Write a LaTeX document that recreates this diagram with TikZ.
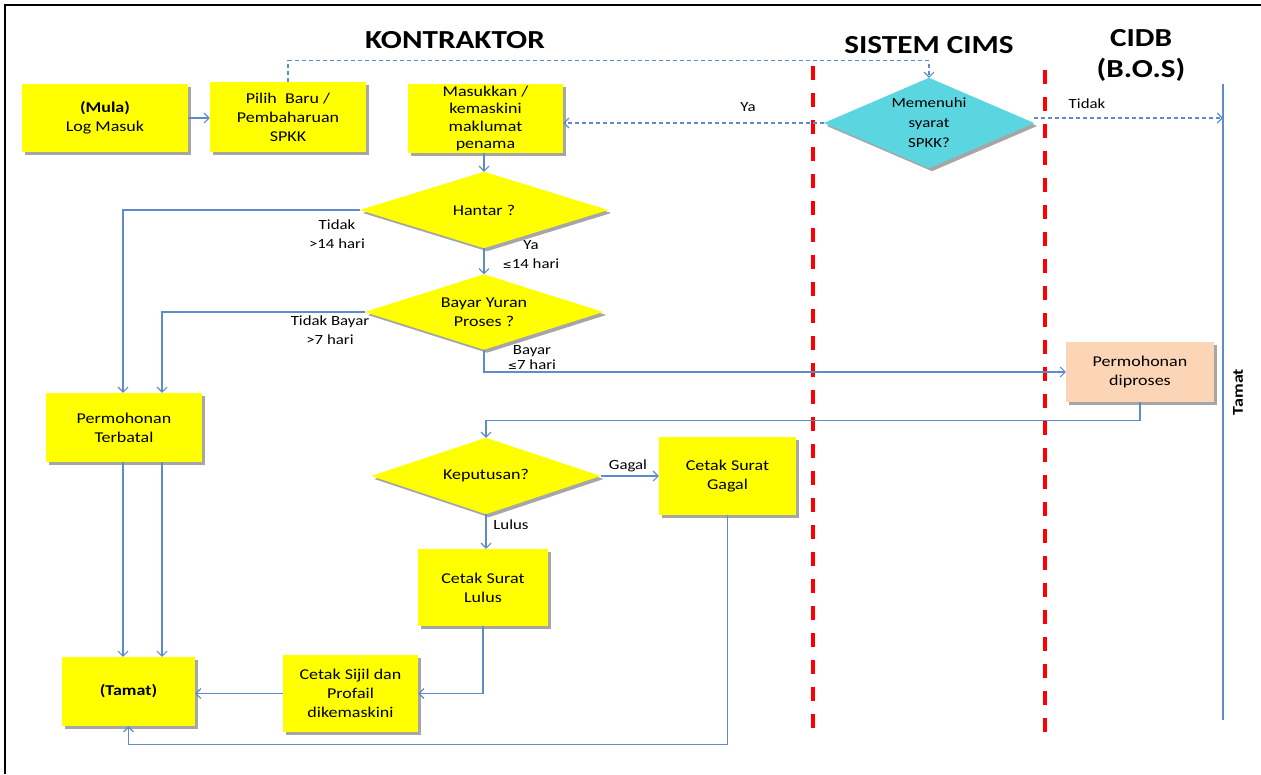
\documentclass[tikz,border=0pt]{standalone}
\usepackage{fontspec}
\setmainfont{Carlito}[FakeStretch=1.2]
\newfontfamily\symfont{DejaVu Sans}
\usetikzlibrary{arrows.meta,shadows,backgrounds}
\definecolor{lineblue}{RGB}{95,140,200}
\definecolor{cyanfill}{RGB}{91,214,224}
\definecolor{peach}{RGB}{251,213,181}
\definecolor{ybox}{RGB}{255,255,0}
\begin{document}
\begin{tikzpicture}[x=1pt,y=-1pt,
  shad/.style={drop shadow={shadow xshift=3pt,shadow yshift=-3pt,opacity=0.35,fill=black}},
  box/.style={rectangle,fill=ybox,draw=none,align=center,inner sep=0pt,shad,
              font=\fontsize{15}{19}\selectfont},
  dia/.style={rectangle,draw=none,align=center,inner sep=0pt,font=\fontsize{15}{19}\selectfont},
  lbl/.style={align=center,inner sep=0pt,font=\fontsize{14}{19}\selectfont},
  ttl/.style={align=center,inner sep=0pt,font=\fontsize{26}{31}\selectfont\bfseries},
  conn/.style={draw=lineblue,line width=1.1pt,-{Straight Barb[length=5pt,width=10pt]}},
  dconn/.style={conn,dash pattern=on 4pt off 3pt},
  plain/.style={draw=lineblue,line width=1.1pt},
  reddash/.style={draw=red,line width=4.5pt,dash pattern=on 14pt off 13pt}
]
\useasboundingbox (0,0) rectangle (1261,774);
% frame
\coordinate (fbl) at (5,774);
\coordinate (ftl) at (5,5);
\coordinate (ftr) at (1261,5);
\draw[line width=2pt] (fbl) -- (ftl) -- (ftr);

% titles
\node[ttl] (tk) at (455,40) {KONTRAKTOR};
\node[ttl] (ts) at (929,45) {SISTEM CIMS};
\node[ttl] (tc) at (1141,55) {CIDB\\(B.O.S)};

% red lane separators
\coordinate (r1t) at (813,66);  \coordinate (r1b) at (813,735);
\coordinate (r2t) at (1045,70); \coordinate (r2b) at (1045,735);
\draw[reddash] (r1t) -- (r1b);
\draw[reddash] (r2t) -- (r2b);

% Tamat line
\coordinate (tamattop) at (1223,84);
\coordinate (tamatbot) at (1223,720);
\draw[plain] (tamattop) -- (tamatbot);
\node[rotate=90,inner sep=0pt,font=\fontsize{15}{17}\selectfont\bfseries] (tamatlbl) at (1238,392) {Tamat};

% boxes
\node[box,minimum width=166,minimum height=68] (mula) at (105,118) {\textbf{(Mula)}\\Log Masuk};
\node[box,minimum width=156,minimum height=70] (pilih) at (288,117) {Pilih\ \ Baru /\\Pembaharuan\\SPKK};
\node[box,minimum width=155,minimum height=69,font=\fontsize{15}{17.5}\selectfont] (masuk) at (485.5,118.5) {Masukkan /\\kemaskini\\maklumat\\penama};
\node[box,minimum width=156,minimum height=69] (terbatal) at (124,427.5) {Permohonan\\Terbatal};
\node[box,minimum width=137,minimum height=78] (gagal) at (727.5,476) {Cetak Surat\\Gagal};
\node[box,minimum width=130,minimum height=77] (lulus) at (483,587.5) {Cetak Surat\\Lulus};
\node[box,minimum width=135,minimum height=77] (sijil) at (350.5,693.5) {Cetak Sijil dan\\Profail\\dikemaskini};
\node[box,minimum width=133,minimum height=69] (tamat) at (128.5,691.5) {\textbf{(Tamat)}};
\node[box,fill=peach,minimum width=148,minimum height=60] (diproses) at (1140,372) {Permohonan\\diproses};

% diamonds
\node[dia,minimum width=248,minimum height=76] (hantar) at (484,210) {Hantar ?};
\node[dia,minimum width=238,minimum height=75] (bayar) at (484,312) {Bayar Yuran\\Proses ?};
\node[dia,minimum width=229,minimum height=76] (keput) at (486,476) {Keputusan?};
\node[dia,minimum width=210,minimum height=90,font=\fontsize{14}{20}\selectfont] (memenuhi) at (929,123) {Memenuhi\\syarat\\SPKK?};
\begin{scope}[on background layer]
\path[fill=ybox,shad] (hantar.north) -- (hantar.east) -- (hantar.south) -- (hantar.west) -- cycle;
\path[fill=ybox,shad] (bayar.north) -- (bayar.east) -- (bayar.south) -- (bayar.west) -- cycle;
\path[fill=ybox,shad] (keput.north) -- (keput.east) -- (keput.south) -- (keput.west) -- cycle;
\path[fill=cyanfill,shad] (memenuhi.north) -- (memenuhi.east) -- (memenuhi.south) -- (memenuhi.west) -- cycle;
\end{scope}

% connectors
\draw[conn] (mula.east) -- (mula.east -| pilih.west);
\draw[dconn] (pilih.north) -- ++(0,-21) -| (memenuhi.north);
\draw[dconn] (memenuhi.west) -- (memenuhi.west -| masuk.east);
\draw[dconn] ([yshift=5pt]memenuhi.east) -- ([yshift=5pt]memenuhi.east -| tamattop);
\draw[conn] (masuk.south -| hantar.north) -- (hantar.north);
\draw[conn] (hantar.west) -| ([xshift=-1pt]terbatal.north);
\draw[conn] (bayar.west) -| ([xshift=38pt]terbatal.north);
\draw[conn] (hantar.south) -- (bayar.north);
\draw[conn] (bayar.south) |- (diproses.west);
\draw[conn] (diproses.south) -- ++(0,18) -| (keput.north);
\draw[conn] (keput.east) -- (gagal.west);
\draw[conn] (keput.south) -- (keput.south |- lulus.north);
\draw[conn] (lulus.south) |- (sijil.east);
\draw[conn] (sijil.west) -- (sijil.west -| tamat.east);
\draw[conn] ([xshift=-1pt]terbatal.south) -- ([xshift=-1pt]terbatal.south |- tamat.north);
\draw[conn] ([xshift=38pt]terbatal.south) -- ([xshift=38pt]terbatal.south |- tamat.north);
\draw[conn] (gagal.south) -- ++(0,229) -| (tamat.south);

% labels
\node[lbl] (lya1) at (748,107) {Ya};
\node[lbl] (ltidak1) at (1087,104) {Tidak};
\node[lbl] (ltidak2) at (337,234) {Tidak\\>14 hari};
\node[lbl] (lya2) at (531,255) {Ya\\{\symfont\fontsize{11}{13}\selectfont≤}14 hari};
\node[lbl] (ltb) at (330,330) {Tidak Bayar\\>7 hari};
\node[lbl,font=\fontsize{14}{15}\selectfont] (lbayar) at (532,358) {Bayar\\{\symfont\fontsize{11}{13}\selectfont≤}7 hari};
\node[lbl] (lgagal) at (628,466) {Gagal};
\node[lbl] (llulus) at (511,525) {Lulus};
\end{tikzpicture}
\end{document}
